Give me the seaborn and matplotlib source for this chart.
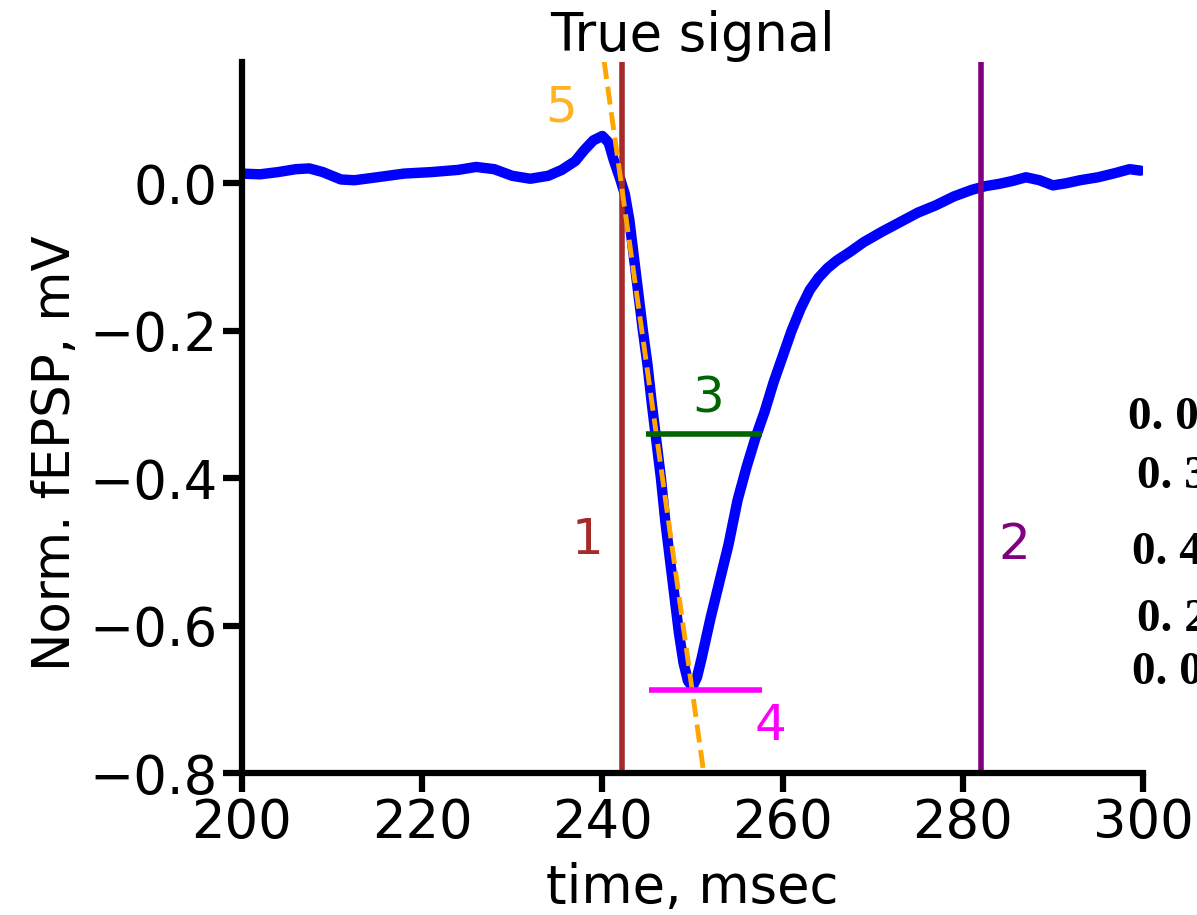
import numpy as np
import pandas as pd
import matplotlib
matplotlib.use("Agg")
import matplotlib.pyplot as plt
import seaborn as sns

# trace (time in ms, normalised fEPSP in mV)
time_ms = [200.0, 202.0, 204.0, 206.0, 207.5, 209.0, 211.0, 212.5, 215.0, 218.0,
           221.0, 224.0, 226.0, 228.0, 230.0, 232.0, 234.0, 235.5, 237.0, 238.0,
           239.0, 240.0, 240.7, 241.3, 242.0, 242.5, 243.0, 243.5, 244.0, 244.5,
           245.0, 245.5, 246.0, 246.5, 247.0, 247.5, 248.0, 248.5, 249.0, 249.5,
           250.0, 250.5, 251.0, 252.0, 253.0, 254.0, 255.0, 256.0, 257.0, 258.0,
           259.0, 260.0, 261.0, 262.0, 263.0, 264.0, 265.0, 266.0, 267.5, 269.0,
           271.0, 273.0, 275.0, 277.0, 279.0, 281.0, 282.5, 284.0, 285.5, 287.0,
           288.5, 290.0, 291.5, 293.0, 295.0, 297.0, 298.5, 299.7]
fepsp = [0.013, 0.012, 0.015, 0.019, 0.020, 0.015, 0.005, 0.004, 0.008, 0.013,
         0.015, 0.018, 0.022, 0.019, 0.010, 0.006, 0.010, 0.018, 0.030, 0.045,
         0.058, 0.064, 0.055, 0.030, 0.005, -0.015, -0.050, -0.100, -0.150, -0.200,
         -0.245, -0.300, -0.350, -0.400, -0.460, -0.510, -0.560, -0.610, -0.650, -0.675,
         -0.683, -0.670, -0.645, -0.590, -0.540, -0.490, -0.430, -0.385, -0.345, -0.310,
         -0.270, -0.235, -0.200, -0.170, -0.145, -0.128, -0.115, -0.105, -0.093, -0.080,
         -0.066, -0.053, -0.040, -0.030, -0.018, -0.009, -0.004, -0.001, 0.003, 0.008,
         0.004, -0.003, 0.000, 0.004, 0.008, 0.014, 0.019, 0.017]

# measured features
onset_t = 242.2        # 1
end_t = 282.0          # 2
half_width = [244.9, 257.7, -0.34]    # 3: t_start, t_end, level
peak_line = [245.2, 257.7, -0.687]    # 4: t_start, t_end, level
slope_t = [239.8, 251.2]              # 5: max slope tangent
slope_v = [0.20, -0.795]

side_values = ["0. 0", "0. 3", "0. 4", "0. 2", "0. 0"]

df = pd.DataFrame({"time": time_ms, "fepsp": fepsp})

sns.set_style("ticks")
plt.rcParams.update({
    "font.family": ["DejaVu Sans"],
    "text.color": "black",
    "axes.labelcolor": "black",
    "axes.edgecolor": "black",
    "xtick.color": "black",
    "ytick.color": "black",
    "axes.linewidth": 4.5,
    "xtick.major.width": 4.5,
    "ytick.major.width": 4.5,
    "xtick.major.size": 14,
    "ytick.major.size": 14,
    "xtick.labelsize": 38,
    "ytick.labelsize": 38,
})

fig = plt.figure(figsize=(11.97, 9.15), dpi=100)
ax = fig.add_axes([0.202, 0.155, 0.753, 0.777])

sns.lineplot(data=df, x="time", y="fepsp", color="blue", linewidth=7.5, ax=ax)

ax.axvline(onset_t, color="brown", linewidth=4)
ax.axvline(end_t, color="purple", linewidth=4)
ax.plot(slope_t, slope_v, "--", color="orange", linewidth=3.5)
ax.hlines(half_width[2], half_width[0], half_width[1], color="darkgreen", linewidth=4)
ax.hlines(peak_line[2], peak_line[0], peak_line[1], color="magenta", linewidth=4)

lab_kw = dict(fontsize=36, ha="center", va="center")
ax.text(238.4, -0.484, "1", color="brown", **lab_kw)
ax.text(285.7, -0.491, "2", color="purple", **lab_kw)
ax.text(251.7, -0.292, "3", color="darkgreen", **lab_kw)
ax.text(258.6, -0.736, "4", color="magenta", **lab_kw)
ax.text(235.4, 0.102, "5", color="orange", alpha=0.85, **lab_kw)

ax.set_xlim(200, 300)
ax.set_ylim(-0.8, 0.164)
ax.set_xticks([200, 220, 240, 260, 280, 300])
ax.set_yticks([0.0, -0.2, -0.4, -0.6, -0.8])
ax.set_xlabel("time, msec", fontsize=38, labelpad=9)
ax.set_ylabel("Norm. fEPSP, mV", fontsize=37)
ax.yaxis.set_label_coords(-0.178, 0.45)
ax.set_title("True signal", fontsize=38, pad=6)
sns.despine(ax=ax)

# values printed beside the axes (cut off by the figure edge)
side_x = [0.942, 0.950, 0.946, 0.950, 0.946]
side_y = [418, 477, 553, 620, 673]
for sx, sy, s in zip(side_x, side_y, side_values):
    fig.text(sx, 1 - sy / 915, s, fontsize=34, fontweight="bold",
             family=["Liberation Serif", "DejaVu Serif"], va="center", ha="left")

fig.savefig("out.png", dpi=100)
